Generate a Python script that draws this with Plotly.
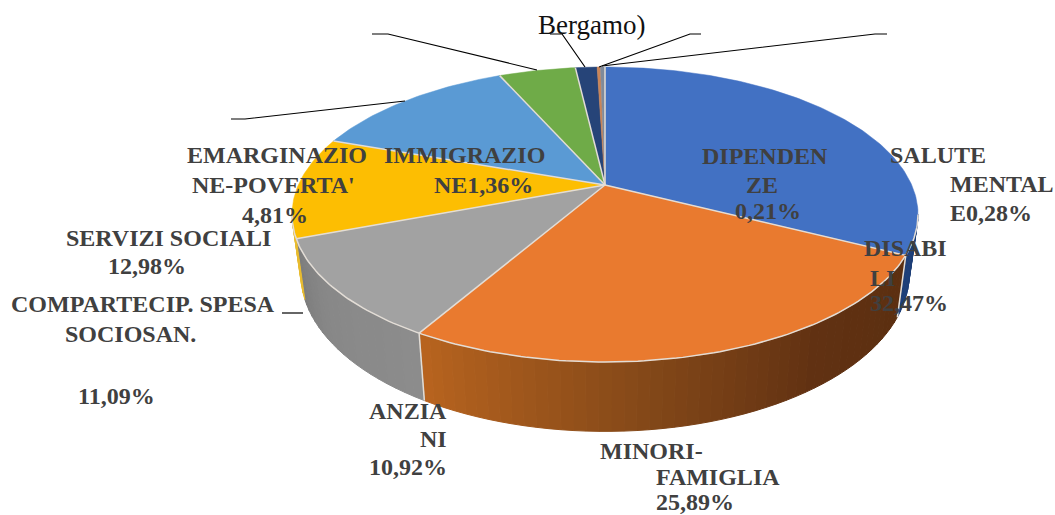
import math
import plotly.graph_objects as go

# --- data ---
categories = ["DISABILI", "MINORI-FAMIGLIA", "ANZIANI", "COMPARTECIP. SPESA SOCIOSAN.",
              "SERVIZI SOCIALI", "EMARGINAZIONE-POVERTA'", "IMMIGRAZIONE", "DIPENDENZE", "SALUTE MENTALE"]
values = [32.47, 25.89, 10.92, 11.09, 12.98, 4.81, 1.36, 0.21, 0.28]

# --- styles ---
top_colors = ["#4271C3", "#E97A2F", "#A2A2A2", "#FDBE02", "#5A9AD4", "#6FAB48", "#264478", "#C98558", "#7F8A9A"]
WALL_STOPS = {
    0: [(0, "#1E3F78"), (1, "#1E3F78")],
    1: [(0, "#B8641F"), (0.4, "#824718"), (0.7, "#613112"), (1, "#5B2F10")],
    2: [(0, "#8C8C8C"), (0.6, "#888888"), (1, "#7C7C7C")],
    3: [(0, "#E8BC30"), (1, "#E8BC30")],
}
TEXT_COLOR = "#404040"
SEAM = "#E3DDD6"

# --- projection of the tilted disc ---
CX, CY, A, B, K = 605, 185, 306.7, 141.6, 0.2
SX, SY, DROP = 0.972, 1.07, 57


def top(theta):
    u, v = math.sin(theta), math.cos(theta)
    w = 1 + K * v
    return CX + A * u / w, CY - B * v / w


def bottom(theta):
    u, v = math.sin(theta), math.cos(theta)
    w = 1 + K * v
    return CX + SX * A * u / w, CY + DROP - SY * B * v / w


def mix(stops, t):
    for (t0, c0), (t1, c1) in zip(stops, stops[1:]):
        if t <= t1:
            f = (t - t0) / (t1 - t0) if t1 > t0 else 0
            a = [int(c0[i:i + 2], 16) for i in (1, 3, 5)]
            b = [int(c1[i:i + 2], 16) for i in (1, 3, 5)]
            return "rgb(%d,%d,%d)" % tuple(round(x + (y - x) * f) for x, y in zip(a, b))
    return stops[-1][1]


total = sum(values)
edges = [0.0]
for val in values:
    edges.append(edges[-1] + val / total * 2 * math.pi)

fig = go.Figure()
LEFT_SIL = math.pi * 2 - math.acos(-K)
RIGHT_SIL = math.acos(-K)


def poly(xs, ys, fill, width=1.0):
    fig.add_trace(go.Scatter(x=xs, y=ys, mode="lines", fill="toself", fillcolor=fill,
                             line=dict(color=fill, width=width), hoverinfo="skip", showlegend=False))


def stroke(xs, ys, color, width):
    fig.add_trace(go.Scatter(x=xs, y=ys, mode="lines", line=dict(color=color, width=width),
                             hoverinfo="skip", showlegend=False))


# walls
for i, stops in WALL_STOPS.items():
    a0 = max(edges[i], RIGHT_SIL)
    a1 = min(edges[i + 1], LEFT_SIL)
    n = max(2, int((a1 - a0) * 30))
    for j in range(n):
        t0 = a0 + (a1 - a0) * j / n
        t1 = a0 + (a1 - a0) * (j + 1) / n
        tm = (j + 0.5) / n
        p = [top(t0), top(t1), bottom(t1), bottom(t0)]
        poly([q[0] for q in p] + [p[0][0]], [q[1] for q in p] + [p[0][1]], mix(stops, 1 - tm if i == 1 else tm))

# seams on the wall
for e in (edges[1], edges[2]):
    a, b = top(e), bottom(e)
    stroke([a[0], b[0]], [a[1], b[1]], SEAM, 1.5)

# top face
for i, col in enumerate(top_colors):
    n = max(2, int((edges[i + 1] - edges[i]) * 60))
    pts = [top(edges[i] + (edges[i + 1] - edges[i]) * j / n) for j in range(n + 1)]
    poly([CX] + [p[0] for p in pts] + [CX], [CY] + [p[1] for p in pts] + [CY], col, 0.5)

# seams on the top face
for i, e in enumerate(edges[:7]):
    p = top(e)
    stroke([CX, p[0]], [CY, p[1]], SEAM, 1.5)
arc = [top(RIGHT_SIL + (LEFT_SIL - RIGHT_SIL) * j / 160) for j in range(161)]
stroke([p[0] for p in arc], [p[1] for p in arc], SEAM, 1.5)

# leader lines
leaders = [
    ([372, 388, 537], [34, 34, 70]),
    ([550, 562, 585], [34, 34, 67]),
    ([701, 690, 599], [34, 34, 67]),
    ([887, 875, 602], [34, 34, 66]),
    ([231, 245, 405], [119, 119, 101]),
    ([282, 303], [313, 313]),
]
for xs, ys in leaders:
    stroke(xs, ys, "#000000", 1.2)

# label lines: text, left x, middle y
label_lines = [
    ("EMARGINAZIO", 187, 155), ("NE-POVERTA'", 192, 185), ("4,81%", 242, 215),
    ("IMMIGRAZIO", 384, 155), ("NE1,36%", 434, 185),
    ("DIPENDEN", 702, 156), ("ZE", 746, 185), ("0,21%", 735, 211),
    ("SALUTE", 890, 155), ("MENTAL", 950, 184), ("E0,28%", 950, 213),
    ("DISABI", 864, 248), ("LI", 870, 278), ("32,47%", 870, 303),
    ("SERVIZI SOCIALI", 66, 238), ("12,98%", 108, 266),
    ("COMPARTECIP. SPESA", 11, 304), ("SOCIOSAN.", 65, 334), ("11,09%", 78, 396),
    ("ANZIA", 369, 411), ("NI", 420, 439), ("10,92%", 369, 467),
    ("MINORI-", 600, 451), ("FAMIGLIA", 656, 477), ("25,89%", 656, 502),
]
annotations = [dict(x=x, y=y, text="<b>%s</b>" % t, xref="x", yref="y", xanchor="left", yanchor="middle",
                    showarrow=False, xshift=-2,
                    font=dict(family="Liberation Serif", size=24, color=TEXT_COLOR))
               for t, x, y in label_lines]
annotations += [dict(x=591, y=25, text="Bergamo)", xref="x", yref="y", xanchor="center", yanchor="middle",
                     showarrow=False, font=dict(family="Liberation Serif", size=27, color="#111111"))]
for t, x in [("p", 22), (")", 220), ("(", 347)]:
    annotations.append(dict(x=x, y=-6, text=t, xref="x", yref="y", xanchor="center", yanchor="middle",
                            showarrow=False, font=dict(family="Liberation Serif", size=26, color="#111111")))

fig.update_layout(
    width=1055, height=515, margin=dict(l=0, r=0, t=0, b=0),
    paper_bgcolor="#FFFFFF", plot_bgcolor="#FFFFFF", showlegend=False, annotations=annotations,
    xaxis=dict(range=[0, 1055], visible=False, fixedrange=True),
    yaxis=dict(range=[515, 0], visible=False, fixedrange=True),
)
fig.write_html("out.html", config={"displayModeBar": False}, default_width="1055px", default_height="515px",
               post_script="document.body.style.margin='0';document.documentElement.style.overflow='hidden';")
